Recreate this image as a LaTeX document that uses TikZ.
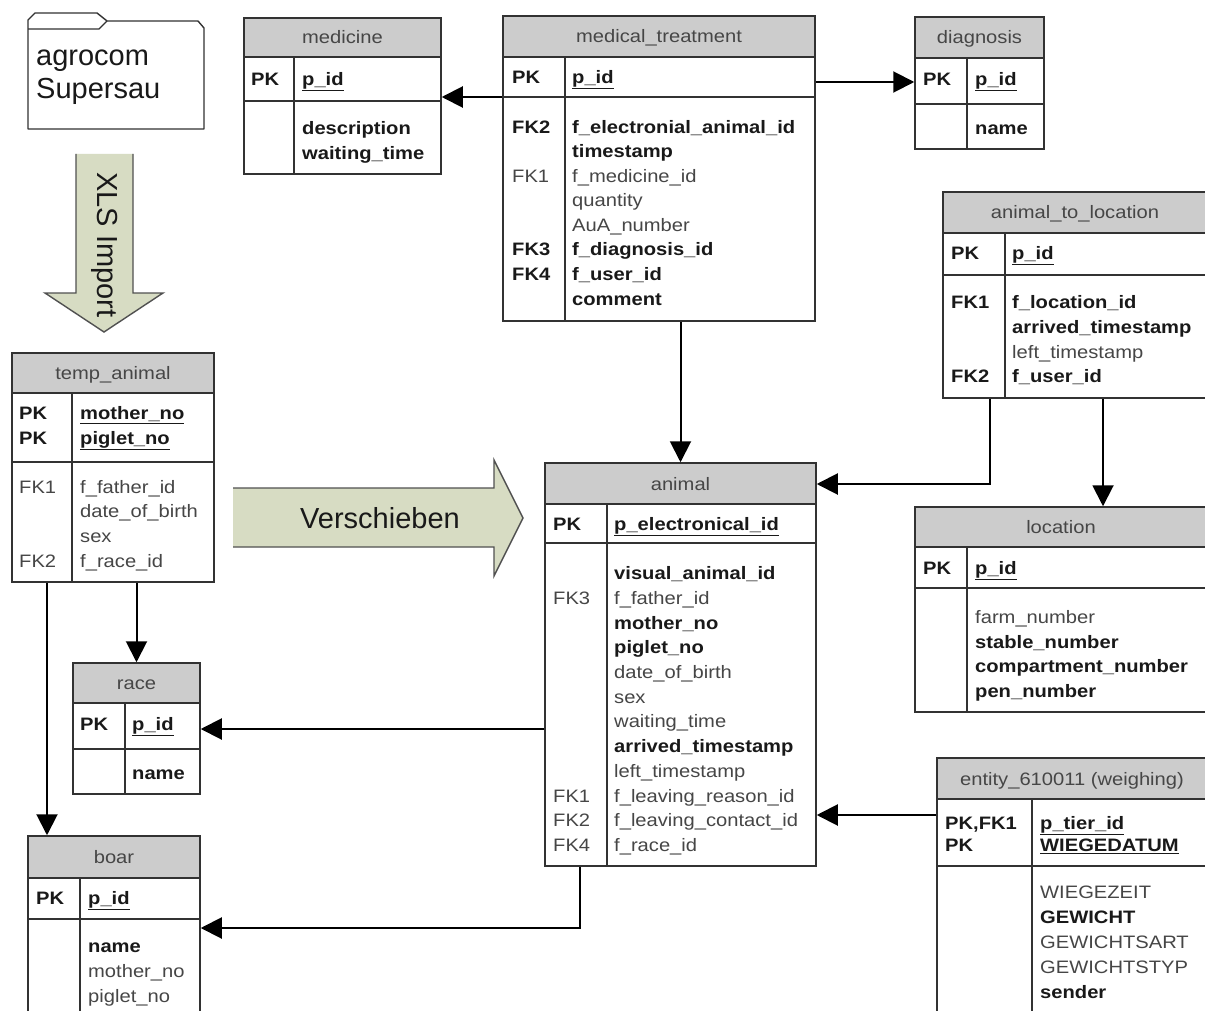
\documentclass[tikz,border=0pt]{standalone}
\usepackage{fontspec}
\setmainfont{Liberation Sans}
\newfontfamily\tabfont{Liberation Sans}[FakeStretch=1.12]
\usetikzlibrary{arrows.meta,fit}

\definecolor{hdr}{RGB}{204,204,204}
\definecolor{edge}{RGB}{50,50,50}
\definecolor{txtb}{RGB}{25,25,25}
\definecolor{txtr}{RGB}{70,70,70}
\definecolor{shaft}{RGB}{215,220,195}

\tikzset{
  tbl/.style={draw=edge, line width=1.5pt},
  fk/.style={line width=2pt, -{Triangle[length=21pt,width=21pt]}},
  ttl/.style={anchor=base, inner sep=0pt, text=txtr,
    font=\tabfont\fontsize{18}{22}\selectfont},
  fb/.style={anchor=base west, inner sep=0pt, text=txtb,
    font=\tabfont\bfseries\fontsize{18}{22}\selectfont},
  fr/.style={anchor=base west, inner sep=0pt, text=txtr,
    font=\tabfont\fontsize{18}{22}\selectfont},
  big/.style={inner sep=0pt, text=txtb, font=\fontsize{29}{33}\selectfont},
  bigarrow/.style={draw=edge!85, line width=1.4pt, line join=miter},
}

% one entity box: name, left, right, column divider, top, header bottom, key bottom, bottom, title
\newcommand\erdtable[9]{%
  \fill[hdr] (#2,#5) rectangle (#3,#6);
  \node[tbl, fit={(#2,#5) (#3,#8)}, inner sep=0pt] (#1) {};
  \draw[tbl] (#2,#6) -- (#3,#6);
  \draw[tbl] (#2,#7) -- (#3,#7);
  \draw[tbl] (#4,#6) -- (#4,#8);
  \node[ttl] (#1-title) at ({(#2+#3)/2},{(#5+#6)/2+6.5}) {#9};
}
% one field text: style, x, vertical centre, text
\newcounter{fldno}
\newcommand\fld[4]{\stepcounter{fldno}%
  \node[#1] (fld\arabic{fldno}) at (#2,{#3+6.3}) {#4};}

\begin{document}
\begin{tikzpicture}[x=1pt,y=-1pt]
\useasboundingbox (0,0) rectangle (1205,1011);
\clip (0,0) rectangle (1205,1011);
\fill[white] (0,0) rectangle (1205,1011);

% source folder
\draw[edge, line width=1.4pt, fill=white, line join=round]
  (28,129) -- (28,20) -- (35,13) -- (97,13) -- (107,21) -- (198,21)
  -- (204,28) -- (204,129) -- cycle;
\draw[edge, line width=1.4pt] (28,29) -- (99,29) -- (107,21);
\node[big, anchor=base west] (src1) at (36,66) {agrocom};
\node[big, anchor=base west] (src2) at (36,99) {Supersau};

% import arrow
\fill[shaft] (76,154) -- (76,293) -- (45,293) -- (104,332) -- (163,293)
  -- (133,293) -- (133,154) -- cycle;
\draw[bigarrow] (76,154) -- (76,293) -- (45,293) -- (104,332) -- (163,293)
  -- (133,293) -- (133,154);
\node[big, rotate=-90] (imp) at (105,245) {XLS Import};

% move arrow
\fill[shaft] (233,488) -- (494,488) -- (494,460) -- (523,518) -- (494,576)
  -- (494,547) -- (233,547) -- cycle;
\draw[bigarrow] (233,488) -- (494,488) -- (494,460) -- (523,518) -- (494,576)
  -- (494,547) -- (233,547);
\node[big, anchor=base] (mv) at (380,528) {Verschieben};

% ---------------- tables ----------------
\erdtable{med}{244}{441}{294}{18}{57}{101}{174}{medicine}
\fld{fb}{251}{79}{PK}
\fld{fb}{302}{79}{\underline{p\_id}}
\fld{fb}{302}{128}{description}
\fld{fb}{302}{153}{waiting\_time}

\erdtable{mt}{503}{815}{565}{16}{57}{97}{321}{medical\_treatment}
\fld{fb}{512}{77}{PK}
\fld{fb}{572}{77}{\underline{p\_id}}
\fld{fb}{512}{127}{FK2}
\fld{fb}{572}{127}{f\_electronial\_animal\_id}
\fld{fb}{572}{151}{timestamp}
\fld{fr}{512}{176}{FK1}
\fld{fr}{572}{176}{f\_medicine\_id}
\fld{fr}{572}{200}{quantity}
\fld{fr}{572}{225}{AuA\_number}
\fld{fb}{512}{249}{FK3}
\fld{fb}{572}{249}{f\_diagnosis\_id}
\fld{fb}{512}{274}{FK4}
\fld{fb}{572}{274}{f\_user\_id}
\fld{fb}{572}{299}{comment}

\erdtable{diag}{915}{1044}{967}{17}{58}{104}{149}{diagnosis}
\fld{fb}{923}{79}{PK}
\fld{fb}{975}{79}{\underline{p\_id}}
\fld{fb}{975}{128}{name}

\erdtable{atl}{943}{1207}{1005}{192}{233}{275}{398}{animal\_to\_location}
\fld{fb}{951}{253}{PK}
\fld{fb}{1012}{253}{\underline{p\_id}}
\fld{fb}{951}{302}{FK1}
\fld{fb}{1012}{302}{f\_location\_id}
\fld{fb}{1012}{327}{arrived\_timestamp}
\fld{fr}{1012}{352}{left\_timestamp}
\fld{fb}{951}{376}{FK2}
\fld{fb}{1012}{376}{f\_user\_id}

\erdtable{tmp}{12}{214}{72}{353}{393}{462}{582}{temp\_animal}
\fld{fb}{19}{413}{PK}
\fld{fb}{80}{413}{\underline{mother\_no}}
\fld{fb}{19}{438}{PK}
\fld{fb}{80}{438}{\underline{piglet\_no}}
\fld{fr}{19}{487}{FK1}
\fld{fr}{80}{487}{f\_father\_id}
\fld{fr}{80}{511}{date\_of\_birth}
\fld{fr}{80}{536}{sex}
\fld{fr}{19}{561}{FK2}
\fld{fr}{80}{561}{f\_race\_id}

\erdtable{ani}{545}{816}{607}{463}{504}{543}{866}{animal}
\fld{fb}{553}{524}{PK}
\fld{fb}{614}{524}{\underline{p\_electronical\_id}}
\fld{fb}{614}{573}{visual\_animal\_id}
\fld{fr}{553}{598}{FK3}
\fld{fr}{614}{598}{f\_father\_id}
\fld{fb}{614}{623}{mother\_no}
\fld{fb}{614}{647}{piglet\_no}
\fld{fr}{614}{672}{date\_of\_birth}
\fld{fr}{614}{697}{sex}
\fld{fr}{614}{721}{waiting\_time}
\fld{fb}{614}{746}{arrived\_timestamp}
\fld{fr}{614}{771}{left\_timestamp}
\fld{fr}{553}{796}{FK1}
\fld{fr}{614}{796}{f\_leaving\_reason\_id}
\fld{fr}{553}{820}{FK2}
\fld{fr}{614}{820}{f\_leaving\_contact\_id}
\fld{fr}{553}{845}{FK4}
\fld{fr}{614}{845}{f\_race\_id}

\erdtable{loc}{915}{1207}{967}{507}{547}{588}{712}{location}
\fld{fb}{923}{568}{PK}
\fld{fb}{975}{568}{\underline{p\_id}}
\fld{fr}{975}{617}{farm\_number}
\fld{fb}{975}{642}{stable\_number}
\fld{fb}{975}{666}{compartment\_number}
\fld{fb}{975}{691}{pen\_number}

\erdtable{ent}{937}{1207}{1032}{758}{799}{866}{1040}{entity\_610011 (weighing)}
\fld{fb}{945}{823}{PK,FK1}
\fld{fb}{1040}{823}{\underline{p\_tier\_id}}
\fld{fb}{945}{845}{PK}
\fld{fb}{1040}{845}{\underline{WIEGEDATUM}}
\fld{fr}{1040}{892}{WIEGEZEIT}
\fld{fb}{1040}{917}{GEWICHT}
\fld{fr}{1040}{942}{GEWICHTSART}
\fld{fr}{1040}{967}{GEWICHTSTYP}
\fld{fb}{1040}{992}{sender}

\erdtable{race}{73}{200}{125}{663}{703}{749}{794}{race}
\fld{fb}{80}{724}{PK}
\fld{fb}{132}{724}{\underline{p\_id}}
\fld{fb}{132}{773}{name}

\erdtable{boar}{28}{200}{80}{836}{878}{919}{1040}{boar}
\fld{fb}{36}{898}{PK}
\fld{fb}{88}{898}{\underline{p\_id}}
\fld{fb}{88}{946}{name}
\fld{fr}{88}{971}{mother\_no}
\fld{fr}{88}{996}{piglet\_no}

% ---------------- relations ----------------
\draw[fk] (mt.west |- 0,97) -- (med.east |- 0,97);
\draw[fk] (mt.east |- 0,82) -- (diag.west |- 0,82);
\draw[fk] (ani.north |- mt.south) -- (ani.north);
\draw[fk] (atl.south -| 990,0) |- (ani.east |- 0,484);
\draw[fk] (atl.south -| 1103,0) -- (loc.north -| 1103,0);
\draw[fk] (race.north |- tmp.south) -- (race.north);
\draw[fk] (tmp.south -| 47,0) -- (boar.north -| 47,0);
\draw[fk] (ani.west |- 0,729) -- (race.east |- 0,729);
\draw[fk] (ent.west |- 0,815) -- (ani.east |- 0,815);
\draw[fk] (ani.south -| 580,0) |- (boar.east |- 0,928);
\end{tikzpicture}
\end{document}
